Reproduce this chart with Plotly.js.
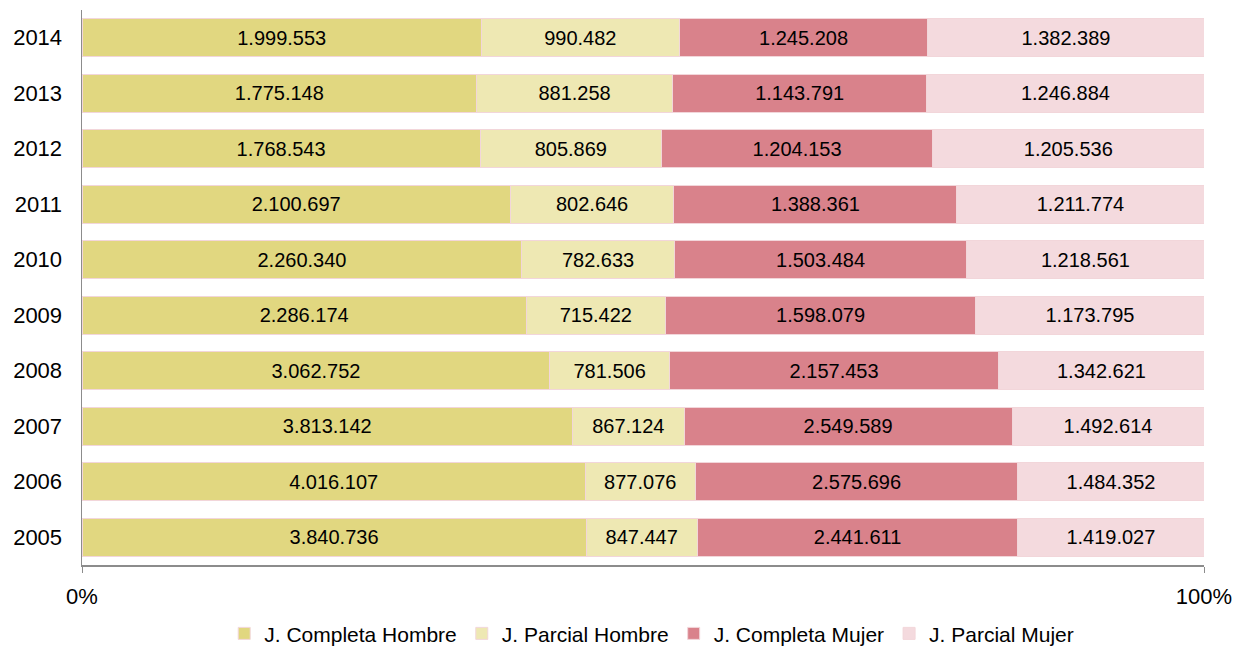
<!DOCTYPE html>
<html>
<head>
<meta charset="utf-8">
<script src="https://cdn.plot.ly/plotly-3.0.1.min.js"></script>
<style>html,body{margin:0;padding:0;background:#fff;}#chart{width:1239px;height:646px;}</style>
</head>
<body>
<div id="chart"></div>
<script>
var years = ['2005','2006','2007','2008','2009','2010','2011','2012','2013','2014'];
var completaHombre = [3840736, 4016107, 3813142, 3062752, 2286174, 2260340, 2100697, 1768543, 1775148, 1999553];
var parcialHombre  = [847447, 877076, 867124, 781506, 715422, 782633, 802646, 805869, 881258, 990482];
var completaMujer  = [2441611, 2575696, 2549589, 2157453, 1598079, 1503484, 1388361, 1204153, 1143791, 1245208];
var parcialMujer   = [1419027, 1484352, 1492614, 1342621, 1173795, 1218561, 1211774, 1205536, 1246884, 1382389];
var seriesNames = ['J. Completa Hombre', 'J. Parcial Hombre', 'J. Completa Mujer', 'J. Parcial Mujer'];
var seriesColors = ['#E1D780', '#EEE8B3', '#D9828B', '#F4DADE'];
var xTickVals = [0, 100];
var xTickText = ['0%', '100%'];

function fmt(n) {
  return String(n).replace(/\B(?=(\d{3})+(?!\d))/g, '.');
}

var allSeries = [completaHombre, parcialHombre, completaMujer, parcialMujer];
var traces = allSeries.map(function (vals, i) {
  return {
    type: 'bar',
    orientation: 'h',
    name: seriesNames[i],
    y: years,
    x: vals,
    text: vals.map(fmt),
    texttemplate: '%{text}',
    textposition: 'inside',
    insidetextanchor: 'middle',
    textangle: 0,
    constraintext: 'none',
    textfont: {family: 'Liberation Sans, Arial, sans-serif', size: 20, color: '#000'},
    marker: {color: seriesColors[i], line: {color: '#F2D6DA', width: 1}},
    hoverinfo: 'none'
  };
});

var layout = {
  width: 1239,
  height: 646,
  barmode: 'stack',
  barnorm: 'percent',
  bargap: 0.31,
  margin: {l: 82, r: 35, t: 10, b: 81, autoexpand: false},
  paper_bgcolor: '#fff',
  plot_bgcolor: '#fff',
  font: {family: 'Liberation Sans, Arial, sans-serif', color: '#000'},
  showlegend: true,
  legend: {
    orientation: 'h',
    xref: 'container',
    x: 0.526,
    xanchor: 'center',
    yref: 'container',
    y: 0.019,
    yanchor: 'middle',
    font: {size: 21, color: '#000'},
    traceorder: 'normal'
  },
  xaxis: {
    range: [0, 100],
    tickvals: xTickVals,
    ticktext: xTickText,
    showgrid: false,
    zeroline: false,
    showline: true,
    linecolor: '#8c8c8c',
    linewidth: 1.5,
    ticks: 'outside',
    ticklen: 6,
    tickcolor: '#8c8c8c',
    tickfont: {size: 22},
    ticklabelstandoff: 5,
    fixedrange: true
  },
  yaxis: {
    type: 'category',
    categoryorder: 'array',
    categoryarray: years,
    showgrid: false,
    zeroline: false,
    showline: true,
    linecolor: '#8c8c8c',
    linewidth: 1.5,
    ticks: '',
    tickfont: {size: 22},
    ticklabelstandoff: 14,
    fixedrange: true
  }
};

Plotly.newPlot('chart', traces, layout, {staticPlot: true, displayModeBar: false});
</script>
</body>
</html>
